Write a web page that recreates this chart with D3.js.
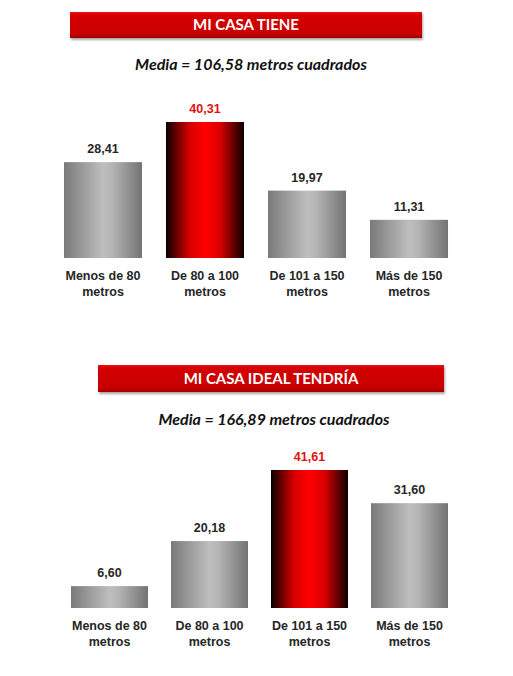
<!DOCTYPE html>
<html>
<head>
<meta charset="utf-8">
<script src="https://cdn.jsdelivr.net/npm/d3@7"></script>
<style>
  body { margin: 0; background: #fff; }
</style>
</head>
<body>
<div id="chart"></div>
<script>
var categories = ["Menos de 80|metros", "De 80 a 100|metros", "De 101 a 150|metros", "Más de 150|metros"];
var valuesTiene = [28.41, 40.31, 19.97, 11.31];
var valuesIdeal = [6.60, 20.18, 41.61, 31.60];
var titles = ["MI CASA TIENE", "MI CASA IDEAL TENDRÍA"];
var subtitles = ["Media = 106,58 metros cuadrados", "Media = 166,89 metros cuadrados"];

var w = 513, h = 676;
var fmt = function(v) { return d3.format(".2f")(v).replace(".", ","); };

var svg = d3.select("#chart").append("svg")
  .attr("width", w)
  .attr("height", h);

var defs = svg.append("defs");

// gray bar gradient
var g1 = defs.append("linearGradient").attr("id", "gray").attr("x1", 0).attr("x2", 1).attr("y1", 0).attr("y2", 0);
g1.append("stop").attr("offset", "0%").attr("stop-color", "#7a7a7a");
g1.append("stop").attr("offset", "50%").attr("stop-color", "#bebebe");
g1.append("stop").attr("offset", "62%").attr("stop-color", "#b4b4b4");
g1.append("stop").attr("offset", "100%").attr("stop-color", "#737373");

// red bar gradient
var g2 = defs.append("linearGradient").attr("id", "red").attr("x1", 0).attr("x2", 1).attr("y1", 0).attr("y2", 0);
g2.append("stop").attr("offset", "0%").attr("stop-color", "#0a0000");
g2.append("stop").attr("offset", "30%").attr("stop-color", "#d80000");
g2.append("stop").attr("offset", "50%").attr("stop-color", "#ff0000");
g2.append("stop").attr("offset", "70%").attr("stop-color", "#d80000");
g2.append("stop").attr("offset", "100%").attr("stop-color", "#0a0000");

// banner gradient
var g3 = defs.append("linearGradient").attr("id", "banner").attr("x1", 0).attr("x2", 0).attr("y1", 0).attr("y2", 1);
g3.append("stop").attr("offset", "0%").attr("stop-color", "#e81010");
g3.append("stop").attr("offset", "15%").attr("stop-color", "#d40000");
g3.append("stop").attr("offset", "85%").attr("stop-color", "#c80000");
g3.append("stop").attr("offset", "100%").attr("stop-color", "#a00000");

var shadow = defs.append("filter").attr("id", "shadow").attr("x", "-5%").attr("y", "-20%").attr("width", "110%").attr("height", "160%");
shadow.append("feDropShadow").attr("dx", 1).attr("dy", 2).attr("stdDeviation", 1.2).attr("flood-color", "#000").attr("flood-opacity", 0.35);

function drawChart(o) {
  var g = svg.append("g");

  // banner
  g.append("rect")
    .attr("x", o.banner[0]).attr("y", o.banner[1])
    .attr("width", o.banner[2] - o.banner[0]).attr("height", o.banner[3] - o.banner[1])
    .attr("fill", "url(#banner)")
    .attr("filter", "url(#shadow)");
  g.append("text")
    .attr("x", (o.banner[0] + o.banner[2]) / 2)
    .attr("y", (o.banner[1] + o.banner[3]) / 2 + 5)
    .attr("text-anchor", "middle")
    .attr("font-family", "Lato, 'Open Sans', sans-serif")
    .attr("font-weight", "bold")
    .attr("font-size", "15px")
    .attr("fill", "#fff")
    .text(o.title);

  g.append("text")
    .attr("x", o.subX)
    .attr("y", o.subY)
    .attr("text-anchor", "middle")
    .attr("font-family", "Lato, 'Open Sans', sans-serif")
    .attr("font-weight", "bold")
    .attr("font-style", "italic")
    .attr("font-size", "16px")
    .attr("fill", "#111")
    .text(o.subtitle);

  var x = d3.scaleBand().domain(categories).range(o.xRange).paddingInner(o.pad).paddingOuter(o.pad / 2);
  var y = d3.scaleLinear().domain([0, 45]).range([o.base, o.base - o.pxPerUnit * 45]);
  var maxV = d3.max(o.values);

  g.selectAll(".bar").data(o.values).enter().append("rect")
    .attr("x", function(d, i) { return x(categories[i]); })
    .attr("y", function(d) { return y(d); })
    .attr("width", x.bandwidth())
    .attr("height", function(d) { return y(0) - y(d); })
    .attr("fill", function(d) { return d === maxV ? "url(#red)" : "url(#gray)"; });

  g.selectAll(".val").data(o.values).enter().append("text")
    .attr("x", function(d, i) { return x(categories[i]) + x.bandwidth() / 2; })
    .attr("y", function(d) { return y(d) - 9; })
    .attr("text-anchor", "middle")
    .attr("font-family", "'Liberation Sans', Arial, sans-serif")
    .attr("font-weight", "bold")
    .attr("font-size", "12.5px")
    .attr("fill", function(d) { return d === maxV ? "#e01010" : "#262626"; })
    .text(fmt);

  var labels = g.selectAll(".cat").data(categories).enter().append("text")
    .attr("text-anchor", "middle")
    .attr("font-family", "'Liberation Sans', Arial, sans-serif")
    .attr("font-weight", "bold")
    .attr("font-size", "12.5px")
    .attr("fill", "#262626");
  labels.each(function(d) {
    var t = d3.select(this);
    d.split("|").forEach(function(line, k) {
      t.append("tspan")
        .attr("x", x(d) + x.bandwidth() / 2)
        .attr("y", o.base + 22 + k * 16)
        .text(line);
    });
  });
}

drawChart({
  title: titles[0], subtitle: subtitles[0], values: valuesTiene,
  banner: [70, 12, 422, 38], subX: 251, subY: 70,
  xRange: [52, 460], pad: 0.235, base: 258, pxPerUnit: 3.374
});

drawChart({
  title: titles[1], subtitle: subtitles[1], values: valuesIdeal,
  banner: [98, 365, 444, 392], subX: 274, subY: 425,
  xRange: [59.5, 459.5], pad: 0.23, base: 608, pxPerUnit: 3.317
});
</script>
</body>
</html>
